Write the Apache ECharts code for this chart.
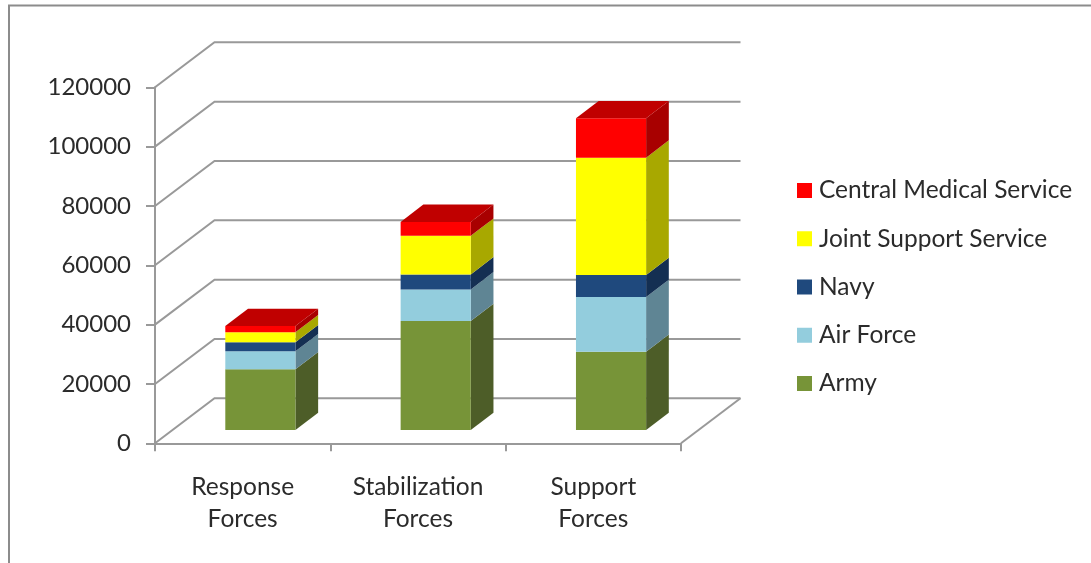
<!DOCTYPE html>
<html>
<head>
<meta charset="utf-8">
<style>html,body{margin:0;padding:0;background:#fff}#c{width:1091px;height:563px}</style>
<script src="https://cdn.jsdelivr.net/npm/echarts@6/dist/echarts.min.js"></script>
</head>
<body>
<div id="c"></div>
<script>
const categories = ['Response\nForces', 'Stabilization\nForces', 'Support\nForces'];
const army = [20500, 36700, 26400];
const airForce = [6050, 10700, 18450];
const navy = [3050, 5050, 7400];
const jointSupport = [3350, 13000, 39550];
const centralMedical = [2100, 4700, 13300];
const yTicks = [0, 20000, 40000, 60000, 80000, 100000, 120000];

const seriesDefs = [
  { name: 'Army', values: army, front: '#779438', side: '#4d5d28' },
  { name: 'Air Force', values: airForce, front: '#93cddd', side: '#5f8594' },
  { name: 'Navy', values: navy, front: '#1f497d', side: '#142f52' },
  { name: 'Joint Support Service', values: jointSupport, front: '#ffff00', side: '#a8a800' },
  { name: 'Central Medical Service', values: centralMedical, front: '#ff0000', side: '#a80000', top: '#c00000' }
];

const FONT = 'Lato';
const TEXT = '#2b2b2b';
const LINE = '#999999';
const WALL_DX = 59.5, WALL_DY = 45;        // depth of the floor
const BAR_OX = 17.7, BAR_OY = 13.3;        // bar front plane offset from the axis plane
const BAR_DX = 22.7, BAR_DY = 17.3;        // depth of a bar

function renderWall(params, api) {
  const g = params.coordSys;
  const yy = api.coord([0, api.value(0)])[1];
  const left = g.x, right = g.x + g.width;
  const style = { stroke: LINE, lineWidth: 2, fill: null };
  const children = [{
    type: 'polyline',
    shape: { points: [[left, yy], [left + WALL_DX, yy - WALL_DY], [right + WALL_DX, yy - WALL_DY]] },
    style
  }];
  if (api.value(0) === 0) {
    children.push({
      type: 'line',
      shape: { x1: right, y1: yy, x2: right + WALL_DX, y2: yy - WALL_DY },
      style
    });
  }
  return { type: 'group', children };
}

function makeBarRenderer(def) {
  return function (params, api) {
    const cat = api.value(0);
    const base = api.coord([cat, api.value(1)]);
    const top = api.coord([cat, api.value(2)]);
    const w = api.size([1, 0])[0] * 0.4;
    const x0 = base[0] - w / 2 + BAR_OX, x1 = x0 + w;
    const yb = base[1] - BAR_OY, yt = top[1] - BAR_OY;
    const children = [
      { type: 'polygon', shape: { points: [[x1, yb], [x1 + BAR_DX, yb - BAR_DY], [x1 + BAR_DX, yt - BAR_DY], [x1, yt]] }, style: { fill: def.side } },
      { type: 'rect', shape: { x: x0, y: yt, width: w, height: yb - yt }, style: { fill: def.front } }
    ];
    if (def.top) {
      children.push({ type: 'polygon', shape: { points: [[x0, yt], [x1, yt], [x1 + BAR_DX, yt - BAR_DY], [x0 + BAR_DX, yt - BAR_DY]] }, style: { fill: def.top } });
    }
    return { type: 'group', children };
  };
}

const running = categories.map(() => 0);
const barSeries = seriesDefs.map(def => {
  const data = def.values.map((v, i) => {
    const item = [i, running[i], running[i] + v];
    running[i] += v;
    return item;
  });
  return {
    type: 'custom',
    name: def.name,
    renderItem: makeBarRenderer(def),
    data,
    encode: { x: 0, y: [1, 2] },
    itemStyle: { color: def.front },
    clip: false,
    silent: true,
    z: 5
  };
});

const wallSeries = {
  type: 'custom',
  renderItem: renderWall,
  data: yTicks.map(v => [v, v]),
  encode: { y: [0, 1] },
  clip: false,
  silent: true,
  z: 1
};

const chart = echarts.init(document.getElementById('c'), null, { renderer: 'canvas' });
chart.setOption({
  animation: false,
  backgroundColor: '#ffffff',
  textStyle: { fontFamily: FONT },
  grid: { left: 155, top: 87.3, width: 526, height: 356 },
  xAxis: {
    type: 'category',
    data: categories,
    axisLine: { lineStyle: { color: LINE, width: 2 } },
    axisTick: { show: true, alignWithLabel: false, length: 8, lineStyle: { color: LINE, width: 2 } },
    axisLabel: { fontFamily: FONT, fontSize: 24.5, color: TEXT, lineHeight: 32, margin: 28, interval: 0 }
  },
  yAxis: {
    type: 'value',
    min: 0,
    max: 120000,
    interval: 20000,
    axisLine: { show: true, lineStyle: { color: LINE, width: 2 } },
    axisTick: { show: true, length: 9, lineStyle: { color: LINE, width: 2 } },
    axisLabel: { fontFamily: FONT, fontSize: 24, color: TEXT, margin: 24, formatter: v => String(v) },
    splitLine: { show: false }
  },
  legend: {
    orient: 'vertical',
    left: 792,
    top: 172,
    icon: 'rect',
    itemWidth: 15,
    itemHeight: 15,
    itemGap: 21.25,
    selectedMode: false,
    data: seriesDefs.slice().reverse().map(d => d.name),
    textStyle: { fontFamily: FONT, fontSize: 24.5, color: TEXT, lineHeight: 27, padding: [0, 0, 0, 2] }
  },
  graphic: [{
    type: 'polyline',
    silent: true,
    shape: { points: [[9, 563], [9, 5.5], [1091, 5.5]] },
    style: { stroke: '#8c8c8c', lineWidth: 2, fill: null }
  }],
  series: [wallSeries].concat(barSeries)
});
</script>
</body>
</html>
